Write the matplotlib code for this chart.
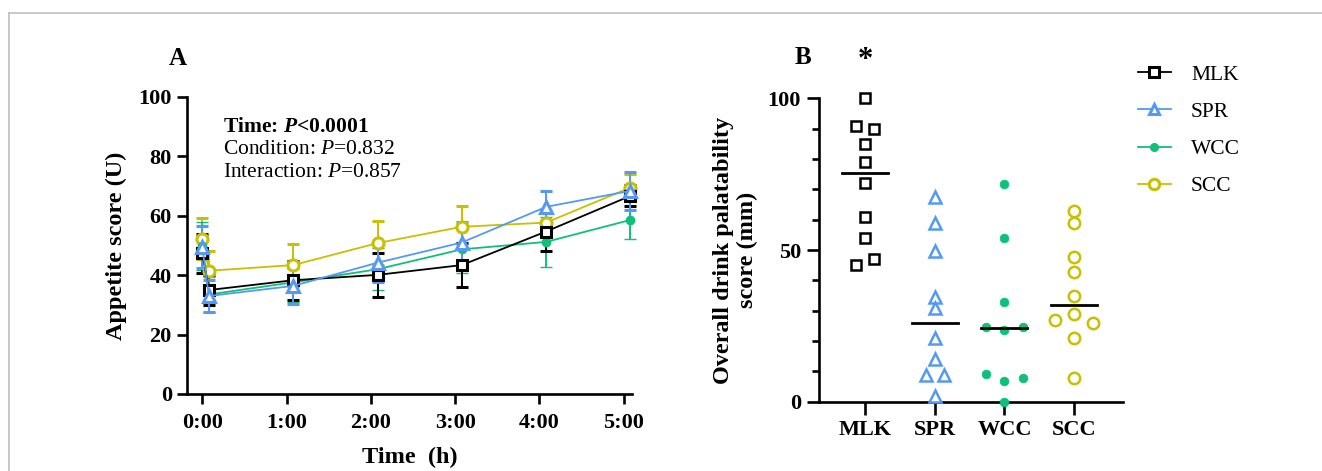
import matplotlib
matplotlib.use('Agg')
import matplotlib.pyplot as plt
from matplotlib.lines import Line2D
import numpy as np

plt.rcParams['font.family'] = ['Liberation Serif', 'DejaVu Serif']
plt.rcParams['mathtext.fontset'] = 'custom'
plt.rcParams['mathtext.rm'] = 'Liberation Serif'
plt.rcParams['mathtext.it'] = 'Liberation Serif:italic'
plt.rcParams['mathtext.bf'] = 'Liberation Serif:bold'
plt.rcParams['mathtext.bfit'] = 'Liberation Serif:bold:italic'

# panel A: appetite over time (mean +/- error)
times = [0, 0.08, 1.08, 2.08, 3.08, 4.08, 5.08]
tick_labels = ['0:00', '1:00', '2:00', '3:00', '4:00', '5:00']

mlk_mean = [47.4, 35.0, 38.3, 40.1, 43.4, 54.7, 66.7]
mlk_err = [6.5, 5.0, 6.5, 7.5, 7.5, 6.5, 3.5]
spr_mean = [49.5, 33.0, 36.4, 44.2, 51.0, 63.0, 68.4]
spr_err = [7.0, 5.5, 6.0, 6.5, 7.0, 5.5, 6.5]
wcc_mean = [49.9, 33.5, 37.6, 42.0, 48.7, 51.2, 58.6]
wcc_err = [8.0, 6.0, 6.5, 7.0, 8.0, 8.5, 6.3]
scc_mean = [52.3, 41.5, 43.4, 50.8, 56.3, 57.7, 69.5]
scc_err = [6.8, 6.7, 7.0, 7.5, 7.0, 4.0, 4.5]

# panel B: individual palatability scores
groups = ['MLK', 'SPR', 'WCC', 'SCC']
mlk_pal = [100, 91, 90, 85, 79, 72, 61, 54, 47, 45]
spr_pal = [67.6, 58.8, 49.7, 34.6, 30.8, 20.9, 14.0, 8.8, 8.8, 1.9]
wcc_pal = [71.8, 53.8, 32.7, 24.7, 23.8, 24.7, 9.0, 6.9, 7.9, 0.0]
scc_pal = [62.9, 59.0, 47.8, 42.9, 34.8, 28.9, 26.9, 25.8, 20.9, 7.9]

# horizontal spread of overlapping points
mlk_jit = [0, -0.13, 0.13, 0, 0, 0, 0, 0, 0.13, -0.13]
spr_jit = [0, 0, 0, 0, 0, 0, 0, -0.13, 0.13, 0]
wcc_jit = [0, 0, 0, -0.27, 0, 0.27, -0.27, 0, 0.27, 0]
scc_jit = [0, 0, 0, 0, 0, 0, -0.27, 0.27, 0, 0]

black = '#000000'
blue = '#5599F5'
green = '#10C07A'
yellow = '#C8C000'

styles = {
    'MLK': dict(color=black, marker='s', mfc='white', ms=7.5, mew=2.2),
    'SPR': dict(color=blue, marker='^', mfc='white', ms=8.5, mew=2.2),
    'WCC': dict(color=green, marker='o', mfc=green, ms=6.5, mew=1),
    'SCC': dict(color=yellow, marker='o', mfc='white', ms=8.5, mew=2.2),
}

fig = plt.figure(figsize=(13.22, 4.71), dpi=100)

# light frame
fig.add_artist(Line2D([0.007, 1.0], [0.972, 0.972], color='#c0c0c0', lw=1.2))
fig.add_artist(Line2D([0.007, 0.007], [0.0, 0.972], color='#c0c0c0', lw=1.2))

axA = fig.add_axes([0.1415, 0.1635, 0.3366, 0.6306])
series = [('SCC', scc_mean, scc_err), ('WCC', wcc_mean, wcc_err),
          ('MLK', mlk_mean, mlk_err), ('SPR', spr_mean, spr_err)]
for name, m, e in series:
    st = styles[name]
    axA.errorbar(times, m, yerr=e, color=st['color'], marker=st['marker'],
                 mfc=st['mfc'], mec=st['color'], ms=st['ms'] - 0.5, mew=st['mew'],
                 lw=1.3, elinewidth=1.4, capsize=4.5, capthick=1.4,
                 clip_on=False, zorder=3)

axA.set_xlim(-0.18, 5.1)
axA.set_ylim(0, 100)
axA.set_xticks(range(6))
axA.set_xticklabels(tick_labels)
axA.set_yticks(range(0, 101, 20))
axA.set_xlabel('Time  (h)', fontsize=17.5, fontweight='bold', labelpad=10)
axA.set_ylabel('Appetite score (U)', fontsize=17.5, fontweight='bold', labelpad=8)
axA.text(-0.02, 1.09, 'A', transform=axA.transAxes, fontsize=18,
         fontweight='bold', ha='center', va='bottom')
axA.text(0.08, 0.9, r'Time: $\mathbfit{P}$<0.0001', transform=axA.transAxes,
         fontsize=15.5, fontweight='bold', va='center')
axA.text(0.08, 0.823, r'Condition: $\mathit{P}$=0.832', transform=axA.transAxes,
         fontsize=15.5, va='center')
axA.text(0.08, 0.746, r'Interaction: $\mathit{P}$=0.857', transform=axA.transAxes,
         fontsize=15.5, va='center')

axB = fig.add_axes([0.6195, 0.1471, 0.23, 0.6442])
pal = [mlk_pal, spr_pal, wcc_pal, scc_pal]
jit = [mlk_jit, spr_jit, wcc_jit, scc_jit]
for i, name in enumerate(groups):
    st = styles[name]
    xs = i + np.array(jit[i])
    axB.plot(xs, pal[i], ls='none', marker=st['marker'], mfc=st['mfc'],
             mec=st['color'], ms=st['ms'] - 0.3, mew=st['mew'] - 0.4,
             clip_on=False, zorder=3)
    med = np.median(pal[i])
    axB.plot([i - 0.33, i + 0.33], [med, med], color='black', lw=2, zorder=4)

axB.set_xlim(-0.66, 3.7)
axB.set_ylim(0, 100)
axB.set_xticks(range(4))
axB.set_xticklabels(groups)
axB.set_yticks([0, 50, 100])
axB.set_yticks(range(0, 101, 10), minor=True)
axB.set_ylabel('Overall drink palatability\nscore (mm)', fontsize=17.5,
               fontweight='bold', labelpad=7, linespacing=1.15)
axB.text(-0.053, 1.095, 'B', transform=axB.transAxes, fontsize=18,
         fontweight='bold', ha='center', va='bottom')
axB.text(0, 112.5, '*', fontsize=22, fontweight='bold', ha='center',
         va='center', clip_on=False)

for ax in (axA, axB):
    for s in ('top', 'right'):
        ax.spines[s].set_visible(False)
    for s in ('left', 'bottom'):
        ax.spines[s].set_linewidth(1.9)
    ax.tick_params(axis='both', which='major', length=7, width=1.9,
                   labelsize=16, pad=4)
    ax.tick_params(axis='y', which='minor', length=4, width=1.9)
    ax.tick_params(axis='x', which='minor', bottom=False)
    for lab in ax.get_xticklabels() + ax.get_yticklabels():
        lab.set_fontweight('bold')
axA.tick_params(axis='x', which='major', pad=7)
axB.tick_params(axis='both', which='major', length=9)
axB.tick_params(axis='y', which='minor', length=5)

handles = []
for name in groups:
    st = styles[name]
    handles.append(Line2D([], [], color=st['color'], marker=st['marker'],
                          mfc=st['mfc'], mec=st['color'], ms=st['ms'] - 1,
                          mew=st['mew'], lw=1.3))
fig.legend(handles, groups, loc='upper left', bbox_to_anchor=(0.861, 0.863),
           frameon=False, fontsize=15.5, handlelength=1.5, handletextpad=0.95,
           labelspacing=0.8, borderpad=0, borderaxespad=0)

fig.savefig('out.png', dpi=100)
